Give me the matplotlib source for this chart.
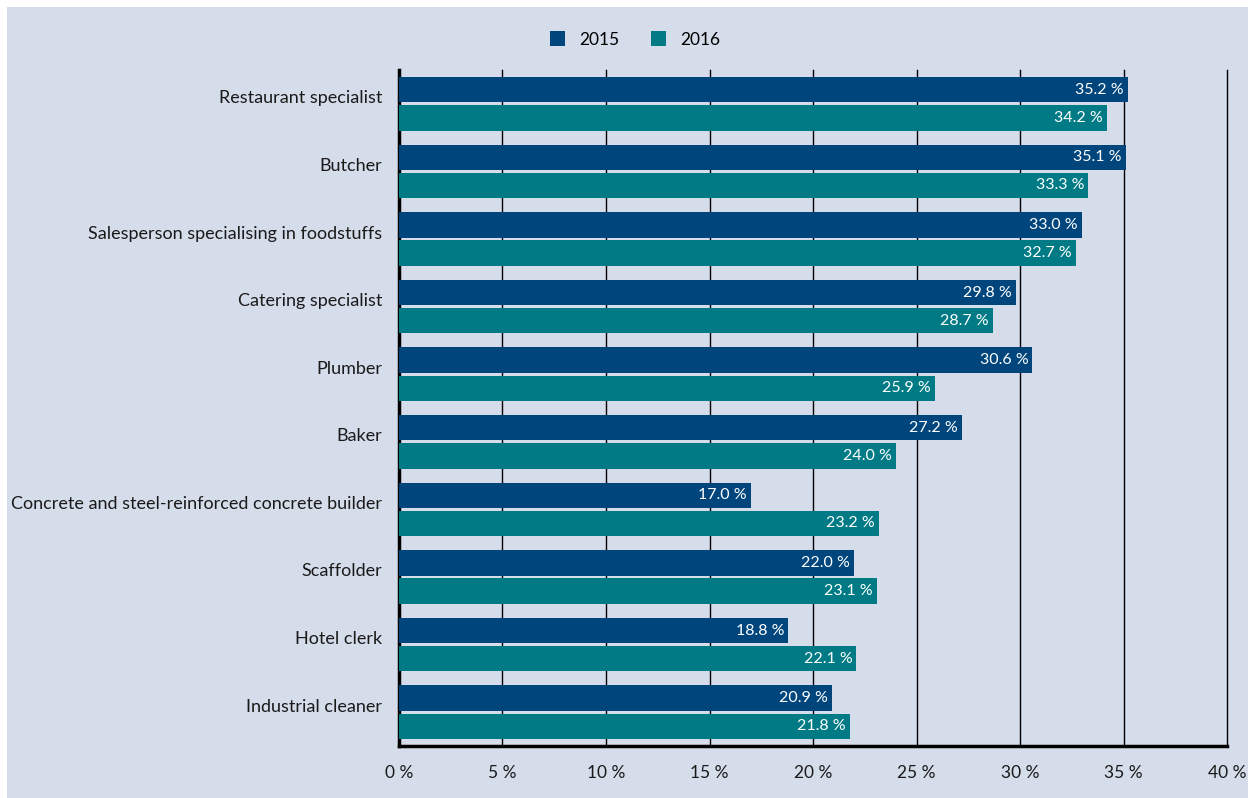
import matplotlib.pyplot as plt
import matplotlib.patches as mpatches
import matplotlib.transforms as mtransforms
import numpy as np

occupations = ['Restaurant specialist', 'Butcher', 'Salesperson specialising in foodstuffs',
               'Catering specialist', 'Plumber', 'Baker',
               'Concrete and steel-reinforced concrete builder', 'Scaffolder',
               'Hotel clerk', 'Industrial cleaner']
share_2015 = [35.2, 35.1, 33.0, 29.8, 30.6, 27.2, 17.0, 22.0, 18.8, 20.9]
share_2016 = [34.2, 33.3, 32.7, 28.7, 25.9, 24.0, 23.2, 23.1, 22.1, 21.8]
xticks = [0, 5, 10, 15, 20, 25, 30, 35, 40]

bg = '#d5dcea'
c15 = '#00457c'
c16 = '#007b85'

plt.rcParams['font.family'] = ['Lato', 'DejaVu Sans']

fig = plt.figure(figsize=(12.48, 7.98), dpi=100, facecolor='white')
fig.patches.append(mpatches.Rectangle((7 / 1248, 0), 1, 791 / 798, transform=fig.transFigure,
                                      facecolor=bg, edgecolor='none', zorder=-10))
ax = fig.add_axes([399 / 1248, 52 / 798, 828 / 1248, 676 / 798])
ax.set_facecolor(bg)

y = np.arange(len(occupations))
h = 0.375
b1 = ax.barh(y - h / 2 - 0.02, share_2015, height=h, color=c15, label='2015', zorder=3)
b2 = ax.barh(y + h / 2 + 0.02, share_2016, height=h, color=c16, label='2016', zorder=3)

for bars, vals in [(b1, share_2015), (b2, share_2016)]:
    for bar, v in zip(bars, vals):
        ax.text(v - 0.2, bar.get_y() + bar.get_height() / 2, f'{v:.1f} %',
                ha='right', va='center', color='white', fontsize=11.5, zorder=4)

ax.set_xlim(0, 40)
ax.set_ylim(len(occupations) - 0.5, -0.5)
ax.set_yticks(y)
ax.set_yticklabels(occupations, fontsize=13, color='#1a1a1a')
ax.set_xticks(xticks)
ax.set_xticklabels([f'{t} %' for t in xticks], fontsize=12.5, color='#1a1a1a')
ax.tick_params(axis='y', length=0, pad=12)
ax.tick_params(axis='x', length=0, pad=14)

# category labels sit a little above the centre of their bar pair
shift = mtransforms.ScaledTranslation(0, 7 / 100, fig.dpi_scale_trans)
for lbl in ax.get_yticklabels():
    lbl.set_transform(lbl.get_transform() + shift)

for t in xticks[1:]:
    ax.axvline(t, color='black', linewidth=1, zorder=1, clip_on=False)

for s in ['top', 'right']:
    ax.spines[s].set_visible(False)
ax.spines['left'].set_linewidth(2.5)
ax.spines['bottom'].set_linewidth(2.5)

ax.legend(loc='lower center', bbox_to_anchor=(0.285, 1.01), ncol=2, frameon=False,
          fontsize=12.5, handlelength=0.9, handleheight=0.9, columnspacing=1.8, handletextpad=0.8)

fig.savefig('out.png', dpi=100, facecolor='white')
